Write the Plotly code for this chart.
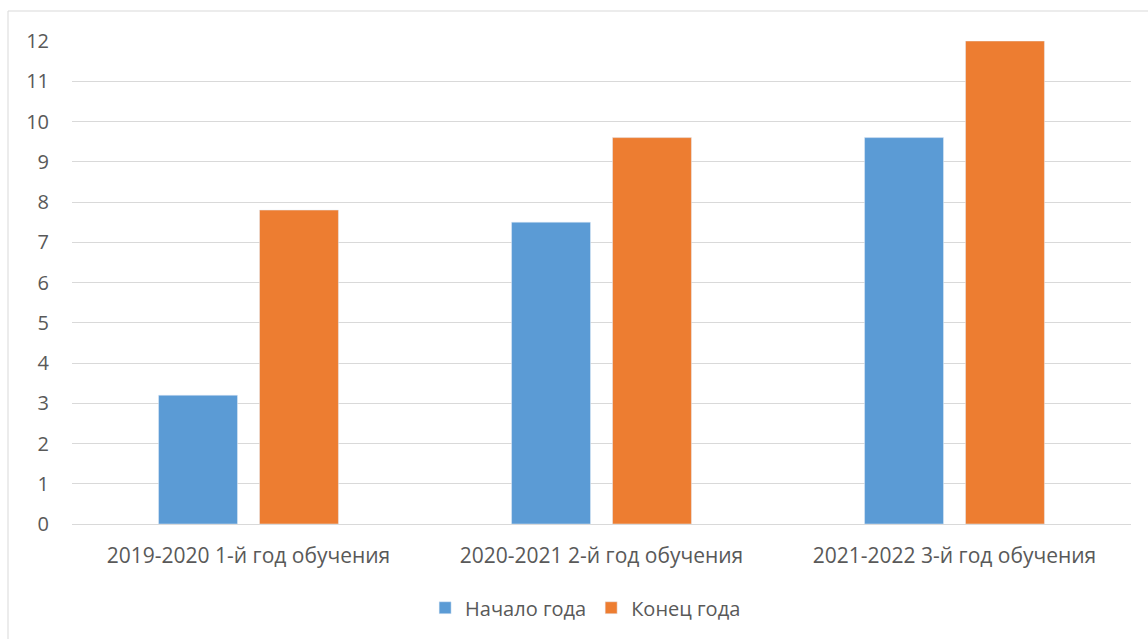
import plotly.graph_objects as go

categories = ["2019-2020 1-й год обучения", "2020-2021 2-й год обучения", "2021-2022 3-й год обучения"]
start_values = [3.2, 7.5, 9.6]
end_values = [7.8, 9.6, 12]
series_names = ["Начало года", "Конец года"]
y_ticks = list(range(0, 13))

W, H = 1148, 639
ml, mr, mt, mb = 72, 17, 41, 115
pw, ph = W - ml - mr, H - mt - mb

fig = go.Figure()
fig.add_trace(go.Bar(x=categories, y=start_values, name=series_names[0], marker_color="#5B9BD5"))
fig.add_trace(go.Bar(x=categories, y=end_values, name=series_names[1], marker_color="#ED7D31"))

font = dict(family="Open Sans", size=20, color="#595959")
xfont = dict(family="Open Sans", size=21, color="#595959")

fig.update_layout(
    width=W, height=H,
    margin=dict(l=ml, r=mr, t=mt, b=mb),
    paper_bgcolor="white", plot_bgcolor="white",
    barmode="group", bargap=0.428, bargroupgap=0.218,
    font=font,
    showlegend=True,
    legend=dict(orientation="h", x=0.485, xanchor="center", y=-0.133, yanchor="top",
                font=font, itemwidth=30, traceorder="normal"),
    xaxis=dict(showgrid=False, showline=False, ticks="", tickfont=xfont, ticklabelstandoff=17),
    yaxis=dict(range=[0, 12], tickvals=y_ticks, showgrid=True, gridcolor="#D9D9D9", gridwidth=1,
               zeroline=True, zerolinecolor="#D9D9D9", zerolinewidth=1,
               showline=False, ticks="", tickfont=font, ticklabelstandoff=22),
    shapes=[dict(type="rect", xref="paper", yref="paper",
                 x0=(8 - ml) / pw, x1=(W + 5 - ml) / pw,
                 y0=(H - mb - (H + 5)) / ph, y1=(H - mb - 11) / ph,
                 line=dict(color="#D9D9D9", width=1), fillcolor="rgba(0,0,0,0)", layer="below")],
)

fig.write_html("out.html")
